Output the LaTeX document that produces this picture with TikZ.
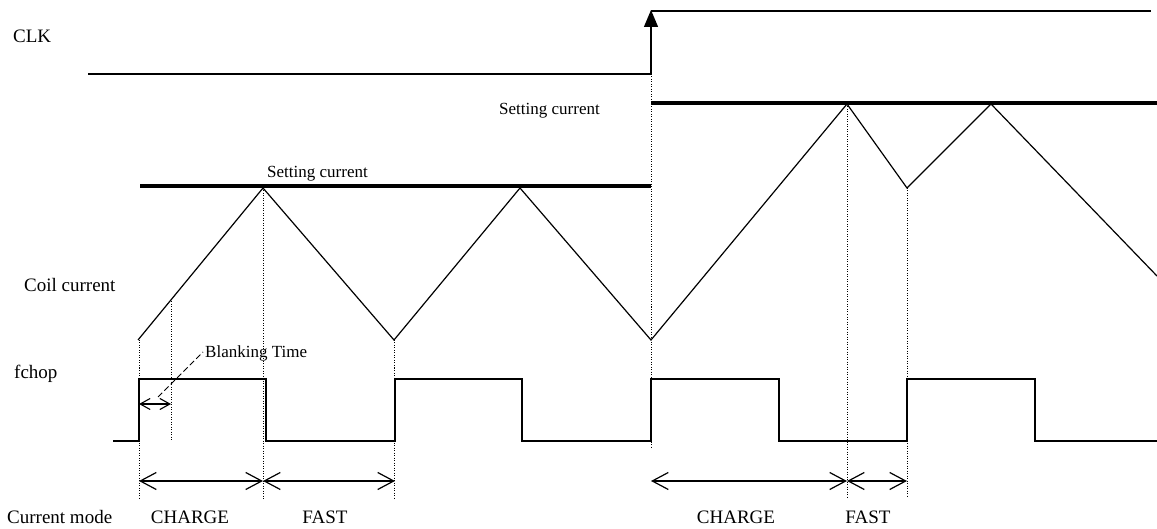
\documentclass[tikz,border=0pt]{standalone}
\usepackage{fontspec}
\setmainfont{Liberation Serif}
\usetikzlibrary{arrows.meta}
\begin{document}
\begin{tikzpicture}[x=1pt,y=-1pt,
  sig/.style={line width=1.3pt},
  setbar/.style={line width=4pt},
  guide/.style={line width=0.8pt, dash pattern=on 1pt off 1.5pt},
  lbl/.style={inner sep=0pt, anchor=base west, font=\fontsize{19}{22}\selectfont},
  slbl/.style={inner sep=0pt, anchor=base west, font=\fontsize{17}{20}\selectfont},
  mlbl/.style={inner sep=0pt, anchor=base, font=\fontsize{19}{22}\selectfont},
  spanarrow/.style={line width=1.2pt, {Straight Barb[length=16pt,width=17pt,line width=1.2pt]}-{Straight Barb[length=16pt,width=17pt,line width=1.2pt]}},
  blankarrow/.style={line width=1.1pt, {Straight Barb[length=10pt,width=11pt,line width=1.1pt]}-{Straight Barb[length=10pt,width=11pt,line width=1.1pt]}},
  leader/.style={line width=0.9pt, dash pattern=on 6pt off 3pt}
]
\useasboundingbox (0,0) rectangle (1157,529);

% labels
\node[lbl] (clk) at (13,43) {CLK};
\node[lbl] (coil) at (24,292) {Coil current};
\node[lbl] (fchop) at (14,378) {fchop};
\node[lbl] (mode) at (7,523) {Current mode};
\node[slbl] (set1) at (267,178) {Setting current};
\node[slbl] (set2) at (499,115) {Setting current};
\node[slbl] (blank) at (205,358) {Blanking Time};
\node[mlbl] (ch1) at (190,523) {CHARGE};
\node[mlbl] (fa1) at (325,523) {FAST};
\node[mlbl] (ch2) at (736,523) {CHARGE};
\node[mlbl] (fa2) at (868,523) {FAST};

% CLK
\coordinate (c0) at (88,74);
\coordinate (c1) at (651,74);
\coordinate (c2) at (651,10);
\coordinate (c3) at (651,11);
\coordinate (c4) at (1151,11);
\draw[sig] (c0) -- (c1);
\draw[sig, -{Triangle[length=17pt,width=14pt]}] (c1) -- (c2);
\draw[sig] (c3) -- (c4);

% setting current bars
\coordinate (s1a) at (140,186);
\coordinate (s1b) at (651,186);
\coordinate (s2a) at (651,103);
\coordinate (s2b) at (1157,103);
\draw[setbar] (s1a) -- (s1b);
\draw[setbar] (s2a) -- (s2b);

% coil current
\coordinate (p0) at (138,340);
\coordinate (p1) at (263,188);
\coordinate (p2) at (394,340);
\coordinate (p3) at (520,188);
\coordinate (p4) at (651,340);
\coordinate (p5) at (847,104);
\coordinate (p6) at (907,188);
\coordinate (p7) at (991,104);
\coordinate (p8) at (1157,276);
\draw[sig, line width=1.2pt] (p0) -- (p1) -- (p2) -- (p3) -- (p4) -- (p5) -- (p6) -- (p7) -- (p8);

% guides
\coordinate (g0b) at (139,500);
\coordinate (gbt) at (171,299);
\coordinate (gbb) at (171,440);
\coordinate (g1b) at (263,500);
\coordinate (g2b) at (394,500);
\coordinate (g3b) at (651,448);
\coordinate (g5b) at (847,497);
\coordinate (g6b) at (907,497);
\draw[guide] (139,340) -- (g0b);
\draw[guide] (gbt) -- (gbb);
\draw[guide] (p1) -- (g1b);
\draw[guide] (p2) -- (g2b);
\draw[guide] (c1) -- (g3b);
\draw[guide] (p5) -- (g5b);
\draw[guide] (p6) -- (g6b);

% fchop
\draw[sig] (113,441) -- (139,441) -- (139,379) -- (266,379) -- (266,441) -- (395,441) -- (395,379)
  -- (522,379) -- (522,441) -- (651,441) -- (651,379) -- (779,379) -- (779,441) -- (907,441)
  -- (907,379) -- (1035,379) -- (1035,441) -- (1157,441);

% blanking
\coordinate (ba) at (139,404);
\coordinate (bb) at (171,404);
\draw[blankarrow] (ba) -- (bb);
\coordinate (la) at (158,397);
\coordinate (lb) at (203,352);
\draw[leader] (la) -- (lb);

% current mode spans
\coordinate (m0) at (139,481);
\coordinate (m1) at (263,481);
\coordinate (m2) at (395,481);
\coordinate (m3) at (651,481);
\coordinate (m4) at (847,481);
\coordinate (m5) at (907,481);
\draw[spanarrow] (m0) -- (m1);
\draw[spanarrow] (m1) -- (m2);
\draw[spanarrow] (m3) -- (m4);
\draw[spanarrow] (m4) -- (m5);
\end{tikzpicture}
\end{document}
